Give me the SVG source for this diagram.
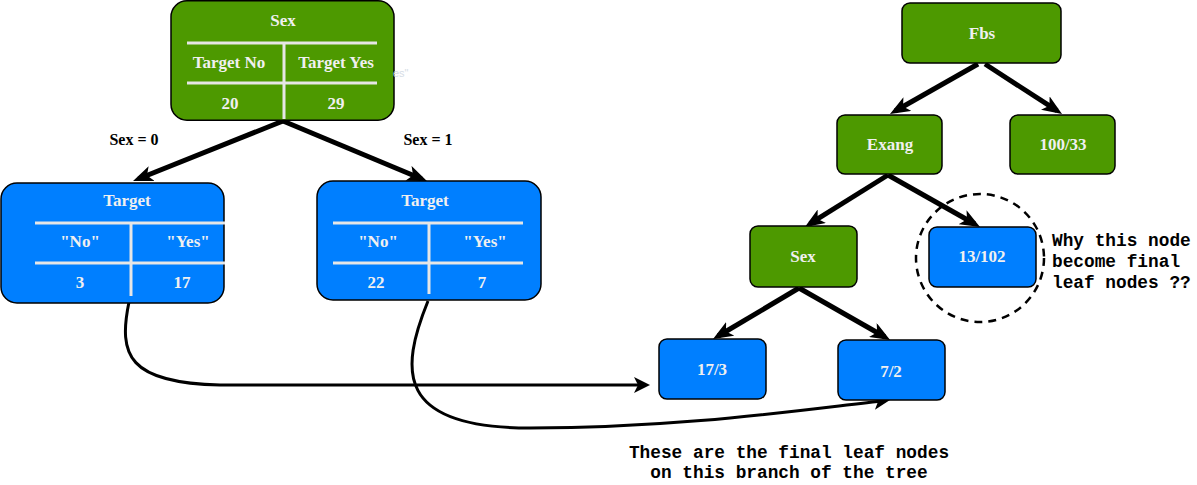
<svg xmlns="http://www.w3.org/2000/svg" width="1197" height="485" viewBox="0 0 1197 485">
<defs>
<style>
.g{fill:#4d9900;stroke:#000;stroke-width:1.5}
.b{fill:#007fff;stroke:#000;stroke-width:1.5}
.t{font-family:"Liberation Serif",serif;font-weight:bold;font-size:17px;fill:#f0f0f0;text-anchor:middle}
.lbl{font-family:"Liberation Serif",serif;font-weight:bold;font-size:16px;fill:#000;text-anchor:middle}
.m{font-family:"Liberation Mono",monospace;font-weight:bold;font-size:17.8px;fill:#000}
.tl{stroke:#e6e6e6;stroke-width:3;fill:none}
.ed{stroke:#000;stroke-width:5;fill:none;marker-end:url(#ah)}
.cv{stroke:#000;stroke-width:3;fill:none;marker-end:url(#ah2)}
</style>
<marker id="ah" viewBox="0 0 20 16" markerWidth="20" markerHeight="16" refX="14" refY="8" orient="auto" markerUnits="userSpaceOnUse">
<path d="M0,0 L20,8 L0,16 L5,8 z" fill="#000"/>
</marker>
<marker id="ah2" viewBox="0 0 16 16" markerWidth="16" markerHeight="16" refX="12" refY="8" orient="auto" markerUnits="userSpaceOnUse">
<path d="M0,0 L16,8 L0,16 L4,8 z" fill="#000"/>
</marker>
</defs>
<rect width="1197" height="485" fill="#fff"/>

<g id="connectors">
<path class="ed" d="M283,121 L138.6,178.8"/>
<path class="ed" d="M283,121 L421.4,178.7"/>
<path class="ed" d="M978,64 L895.2,111"/>
<path class="ed" d="M985,64 L1057,110.7"/>
<path class="ed" d="M888,175 L810,223.7"/>
<path class="ed" d="M888,175 L974.8,224"/>
<path class="ed" d="M799,288 L718.2,336"/>
<path class="ed" d="M799,288 L884.9,337"/>
<path class="cv" d="M129,302 C118,355 128,383 220,385 L646,385"/>
<path class="cv" d="M428,301 C400,370 395,428 530,428 C680,428 800,410 886,400.5"/>
<text class="lbl" x="134" y="145">Sex = 0</text>
<text class="lbl" x="428" y="145">Sex = 1</text>
</g>

<g id="node-sex-top">
<rect class="g" x="171" y="0.75" width="223" height="119.5" rx="16"/>
<line class="tl" x1="187" y1="43" x2="377" y2="43"/>
<line class="tl" x1="187" y1="83" x2="377" y2="83"/>
<line class="tl" x1="284" y1="43" x2="284" y2="119"/>
<text class="t" x="283" y="26">Sex</text>
<text class="t" x="229" y="68">Target No</text>
<text class="t" x="336" y="68">Target Yes</text>
<text class="t" x="230" y="109">20</text>
<text class="t" x="336" y="109">29</text>
<text x="393" y="77" font-family="Liberation Sans,sans-serif" font-size="11" fill="#d6dde6">es"</text>
</g>

<g id="node-target-left">
<rect class="b" x="1" y="183" width="223" height="120" rx="16"/>
<line class="tl" x1="35" y1="223" x2="225" y2="223"/>
<line class="tl" x1="35" y1="263" x2="225" y2="263"/>
<line class="tl" x1="131" y1="223" x2="131" y2="296"/>
<text class="t" x="127" y="206">Target</text>
<text class="t" x="80" y="247">"No"</text>
<text class="t" x="188" y="247">"Yes"</text>
<text class="t" x="80" y="288">3</text>
<text class="t" x="182" y="288">17</text>
</g>

<g id="node-target-right">
<rect class="b" x="317" y="181" width="224" height="119" rx="16"/>
<line class="tl" x1="333" y1="223" x2="523" y2="223"/>
<line class="tl" x1="333" y1="263" x2="523" y2="263"/>
<line class="tl" x1="429" y1="223" x2="429" y2="294"/>
<text class="t" x="425" y="206">Target</text>
<text class="t" x="378" y="247">"No"</text>
<text class="t" x="485" y="247">"Yes"</text>
<text class="t" x="376" y="288">22</text>
<text class="t" x="482" y="288">7</text>
</g>

<g id="node-fbs">
<rect class="g" x="902" y="3" width="159" height="60" rx="8"/>
<text class="t" x="982" y="39">Fbs</text>
</g>
<g id="node-exang">
<rect class="g" x="837" y="115" width="105" height="59" rx="8"/>
<text class="t" x="890" y="150">Exang</text>
</g>
<g id="node-100-33">
<rect class="g" x="1010" y="115" width="105" height="59" rx="8"/>
<text class="t" x="1063" y="150">100/33</text>
</g>
<g id="node-sex-right">
<rect class="g" x="750" y="226" width="107" height="61" rx="8"/>
<text class="t" x="803" y="262">Sex</text>
</g>
<g id="node-13-102">
<rect class="b" x="929" y="227" width="107" height="60" rx="8"/>
<text class="t" x="982" y="262">13/102</text>
</g>
<g id="node-17-3">
<rect class="b" x="659" y="339" width="107" height="60" rx="8"/>
<text class="t" x="712" y="375">17/3</text>
</g>
<g id="node-7-2">
<rect class="b" x="838" y="340" width="107" height="60" rx="8"/>
<text class="t" x="891" y="377">7/2</text>
</g>

<g id="annotation-circle">
<circle cx="980" cy="258" r="64" fill="none" stroke="#000" stroke-width="2.5" stroke-dasharray="8 6"/>
</g>
<g id="note-why">
<text class="m" x="1052" y="246">Why this node</text>
<text class="m" x="1052" y="267">become final</text>
<text class="m" x="1052" y="288">leaf nodes ??</text>
</g>
<g id="note-final">
<text class="m" x="789" y="458" text-anchor="middle">These are the final leaf nodes</text>
<text class="m" x="789" y="478" text-anchor="middle">on this branch of the tree</text>
</g>
</svg>
